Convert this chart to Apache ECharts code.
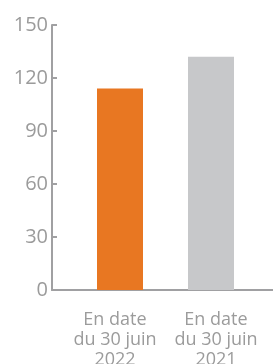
<!DOCTYPE html>
<html>
    <head>
        <meta charset="utf-8">
        <title>Chart</title>
        <script src="https://cdn.jsdelivr.net/npm/echarts@6/dist/echarts.min.js"></script>
        <style>
            html, body { margin: 0; padding: 0; background: #fff; }
        </style>
    </head>
    <body>
        <div id="main" style="width: 273px;height:364px;"></div>
        <script type="text/javascript">
            var categories = ['En date\ndu 30 juin\n2022', 'En date\ndu 30 juin\n2021'];
            var values = [114, 132];
            var barColors = ['#E87722', '#C7C8CA'];
            var yMin = 0, yMax = 150, yStep = 30;

            var myChart = echarts.init(document.getElementById('main'));

            var textColor = '#9B9B9B';
            var axisColor = '#A0A0A2';

            var option = {
                animation: false,
                grid: [
                    // bars
                    { left: 74.5, right: 16.5, top: 25, bottom: 74, outerBoundsMode: 'none', containLabel: false },
                    // visible axes
                    { left: 52, right: 0, top: 25, bottom: 74, outerBoundsMode: 'none', containLabel: false }
                ],
                xAxis: [
                    {
                        gridIndex: 0,
                        type: 'category',
                        data: categories,
                        axisLine: { show: false },
                        axisTick: { show: false },
                        axisLabel: {
                            color: textColor,
                            fontFamily: 'Open Sans',
                            fontSize: 18,
                            lineHeight: 20,
                            margin: 20,
                            interval: 0,
                            // labels sit a bit wider apart than the bars
                            formatter: function (value, index) {
                                var tag = index === 0 ? 'l' : 'r';
                                return value.split('\n').map(function (s) {
                                    return '{' + tag + '|' + s + '}';
                                }).join('\n');
                            },
                            rich: {
                                l: { fontFamily: 'Open Sans', fontSize: 18, lineHeight: 20, color: textColor, padding: [0, 10, 0, 0] },
                                r: { fontFamily: 'Open Sans', fontSize: 18, lineHeight: 20, color: textColor, padding: [0, 0, 0, 10] }
                            }
                        }
                    },
                    {
                        gridIndex: 1,
                        type: 'category',
                        data: ['', ''],
                        axisLine: { show: true, lineStyle: { color: axisColor, width: 2 } },
                        axisTick: { show: false },
                        axisLabel: { show: false }
                    }
                ],
                yAxis: [
                    {
                        gridIndex: 0,
                        type: 'value',
                        min: yMin,
                        max: yMax,
                        interval: yStep,
                        show: false
                    },
                    {
                        gridIndex: 1,
                        type: 'value',
                        min: yMin,
                        max: yMax,
                        interval: yStep,
                        splitLine: { show: false },
                        axisLine: { show: true, lineStyle: { color: axisColor, width: 2 } },
                        axisTick: { show: true, inside: true, length: 5, lineStyle: { color: axisColor, width: 2 } },
                        axisLabel: {
                            color: textColor,
                            fontFamily: 'Open Sans',
                            fontSize: 20,
                            margin: 4
                        }
                    }
                ],
                series: [{
                    type: 'bar',
                    xAxisIndex: 0,
                    yAxisIndex: 0,
                    barWidth: 46,
                    data: values.map(function (v, i) {
                        return { value: v, itemStyle: { color: barColors[i] } };
                    })
                }]
            };

            myChart.setOption(option);
        </script>
    </body>
</html>
